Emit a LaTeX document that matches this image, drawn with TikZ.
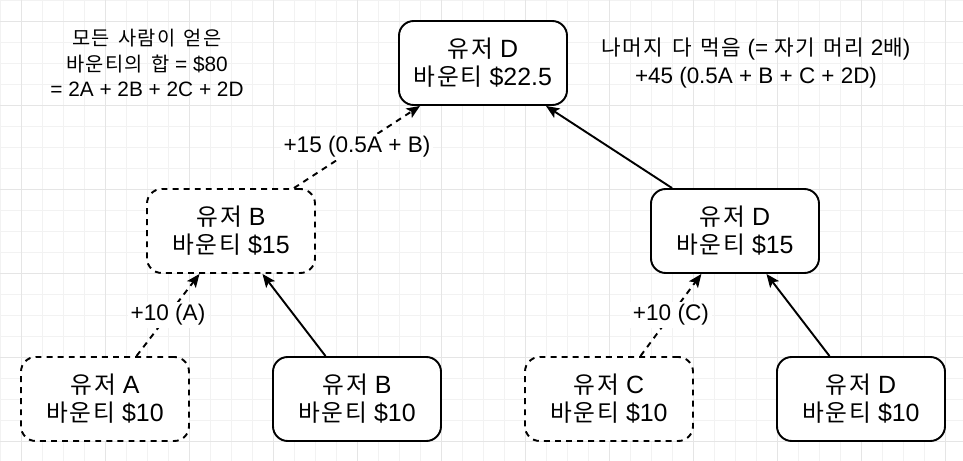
\documentclass[tikz,border=0pt]{standalone}
\usepackage{fontspec}
\setmainfont{Liberation Sans}
\newfontfamily\kr[Scale=0.95, LetterSpace=7, WordSpace=1.4]{Noto Sans CJK KR}
\usetikzlibrary{positioning,arrows.meta}

\begin{document}
\begin{tikzpicture}[
    base/.style = {rectangle, rounded corners=0.35cm, draw=black, line width=1.3pt,
minimum width=4cm, minimum height=2cm, inner sep=0pt,
text centered, fill=white, font={\fontsize{16.9}{19}\selectfont}},
user/.style = {base},
ghost/.style = {base, dash pattern=on 4pt off 3.5pt},
note/.style = {font={\fontsize{15.2}{19.6}\selectfont}},
gain/.style = {midway, fill=white, inner sep=2pt, font={\fontsize{15.3}{18}\selectfont}},
link/.style = {line width=1.3pt, -{Stealth[length=9pt,width=7.5pt,inset=2pt]}},
node distance=4cm, align=center
]

  % background grid
  \useasboundingbox (0,0) rectangle (22.929,-10.976);
  \fill[white] (0,0) rectangle (22.929,-10.976);
  \draw[black!5, line width=0.6pt, step=0.5cm] (0,-10.976) grid (22.929,0);
  \draw[black!10, line width=0.6pt, step=2cm, shift={(0.5,-0.5)}] (-0.5,-10.476) grid (22.429,0.5);

  \node (topD) [user] at (11.5,-1.5) {{\kr 유저} D\\{\kr 바운티} \$22.5};
  \node (midB) [ghost, below of=topD, xshift=-6cm] {{\kr 유저} B\\{\kr 바운티} \$15};
  \node (midD) [user, below of=topD, xshift=6cm] {{\kr 유저} D\\{\kr 바운티} \$15};
  \node (userA) [ghost, below of=midB, xshift=-3cm] {{\kr 유저} A\\{\kr 바운티} \$10};
  \node (userB) [user, below of=midB, xshift=3cm] {{\kr 유저} B\\{\kr 바운티} \$10};
  \node (userC) [ghost, below of=midD, xshift=-3cm] {{\kr 유저} C\\{\kr 바운티} \$10};
  \node (userD) [user, below of=midD, xshift=3cm] {{\kr 유저} D\\{\kr 바운티} \$10};

  \node (sumnote) [left of=topD, xshift=-4cm, font={\fontsize{14.1}{17}\selectfont}]
    {{\kr 모든 사람이 얻은}\\{\kr 바운티의 합} = \$80\\= 2A + 2B + 2C + 2D};
  \node (restnote) [note, right of=topD, xshift=2.5cm]
    {{\kr 나머지 다 먹음} (= {\kr 자기 머리} 2{\kr 배})\\+45 (0.5A + B + C + 2D)};

  \draw[link, dash pattern=on 4pt off 3.5pt] ([xshift=1.5cm]midB.north) -- ([xshift=-1.5cm]topD.south) node[gain] {+15 (0.5A + B)};
  \draw[link] ([xshift=-1.5cm]midD.north) -- ([xshift=1.5cm]topD.south);
  \draw[link, dash pattern=on 4pt off 3.5pt] ([xshift=0.75cm]userA.north) -- ([xshift=-0.75cm]midB.south) node[gain] {+10 (A)};
  \draw[link] ([xshift=-0.75cm]userB.north) -- ([xshift=0.75cm]midB.south);
  \draw[link, dash pattern=on 4pt off 3.5pt] ([xshift=0.75cm]userC.north) -- ([xshift=-0.8cm]midD.south) node[gain] {+10 (C)};
  \draw[link] ([xshift=-0.75cm]userD.north) -- ([xshift=0.75cm]midD.south);

\end{tikzpicture}
\end{document}
